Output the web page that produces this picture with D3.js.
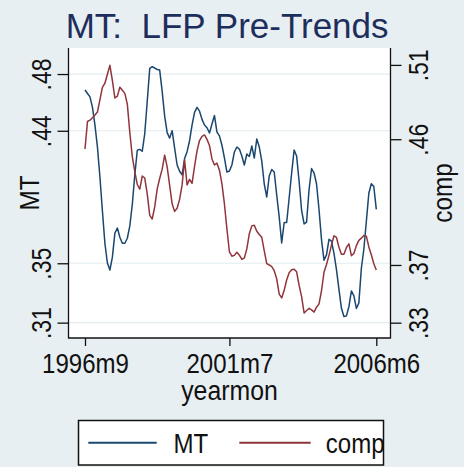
<!DOCTYPE html>
<html>
<head>
<meta charset="utf-8">
<script src="https://cdn.jsdelivr.net/npm/d3@7"></script>
<style>
  html, body { margin: 0; padding: 0; background: #e8eff2; }
  svg { display: block; }
  text { font-family: "Liberation Sans", Arial, Helvetica, sans-serif; }
</style>
</head>
<body>
<svg id="chart" width="464" height="467"></svg>
<script>
// Monthly series, 1996m9 .. 2006m6
const startYear = 1996, startMonth = 9;

const mtValues = [
  0.4716,0.4692,0.4669,0.4597,0.4475,0.4325,0.4119,0.3887,0.3666,0.3533,
  0.3485,0.3573,0.3737,0.3772,0.3709,0.3668,0.3668,0.3702,0.3787,0.3933,
  0.4135,0.4304,0.4310,0.4297,0.4418,0.4639,0.4864,0.4875,0.4866,0.4856,
  0.4852,0.4707,0.4537,0.4424,0.4387,0.4438,0.4319,0.4203,0.4160,0.4135,
  0.4247,0.4294,0.4369,0.4476,0.4563,0.4597,0.4571,0.4515,0.4476,0.4458,
  0.4422,0.4483,0.4541,0.4428,0.4402,0.4338,0.4251,0.4155,0.4162,0.4203,
  0.4292,0.4326,0.4312,0.4264,0.4203,0.4278,0.4261,0.4333,0.4251,0.4381,
  0.4326,0.4230,0.4073,0.3984,0.4128,0.4172,0.4155,0.3998,0.3848,0.3670,
  0.3810,0.3810,0.3977,0.4148,0.4306,0.4264,0.4090,0.3892,0.3800,0.3813,
  0.4035,0.4179,0.4148,0.4073,0.3897,0.3690,0.3552,0.3588,0.3695,0.3683,
  0.3598,0.3488,0.3353,0.3223,0.3167,0.3171,0.3234,0.3342,0.3308,0.3222,
  0.3260,0.3497,0.3627,0.3817,0.4010,0.4075,0.4056,0.3899
];

const compValues = [
  0.4513,0.4705,0.4714,0.4731,0.4750,0.4771,0.4858,0.4943,0.4972,0.5035,
  0.5097,0.4991,0.4869,0.4882,0.4944,0.4923,0.4901,0.4826,0.4628,0.4459,
  0.4354,0.4265,0.4232,0.4324,0.4310,0.4199,0.4049,0.4024,0.4108,0.4234,
  0.4307,0.4372,0.4470,0.4388,0.4259,0.4130,0.4077,0.4099,0.4161,0.4262,
  0.4436,0.4262,0.4301,0.4273,0.4392,0.4500,0.4572,0.4601,0.4611,0.4580,
  0.4537,0.4443,0.4401,0.4414,0.4365,0.4269,0.4129,0.3954,0.3795,0.3764,
  0.3770,0.3792,0.3771,0.3742,0.3752,0.3815,0.3921,0.3976,0.3980,0.3938,
  0.3916,0.3896,0.3801,0.3712,0.3703,0.3692,0.3663,0.3606,0.3500,0.3473,
  0.3526,0.3598,0.3649,0.3669,0.3673,0.3655,0.3560,0.3482,0.3368,0.3385,
  0.3400,0.3389,0.3374,0.3408,0.3431,0.3523,0.3652,0.3706,0.3770,0.3842,
  0.3907,0.3895,0.3827,0.3778,0.3777,0.3825,0.3850,0.3768,0.3783,0.3838,
  0.3875,0.3890,0.3908,0.3904,0.3829,0.3774,0.3712,0.3668
];

// axis ticks (values and their printed labels)
const mtTickValues = [0.3125, 0.3531, 0.4437, 0.4825];
const mtTickLabels = [".31", ".35", ".44", ".48"];
const compTickValues = [0.3300, 0.3703, 0.4581, 0.5100];
const compTickLabels = [".33", ".37", ".46", ".51"];
const xTickIndex = [0, 58, 117];

const seriesNames = ["MT", "comp"];
const seriesColors = ["#1a476f", "#90353b"];

// month labels in %tm style, e.g. 1996m9
const months = mtValues.map((_, i) => {
  const m0 = startMonth - 1 + i;
  return (startYear + Math.floor(m0 / 12)) + "m" + (m0 % 12 + 1);
});

const svg = d3.select("#chart");
const plot = { left: 68.5, right: 390.5, top: 48, bottom: 338 };
const textColor = "#111";

const x = d3.scaleLinear().domain([0, months.length - 1]).range([85, 376.3]);
const yL = d3.scaleLinear().domain([0.3020, 0.5003]).range([plot.bottom, plot.top]);
const yR = d3.scaleLinear().domain([0.3193, 0.5218]).range([plot.bottom, plot.top]);

// title
svg.append("text")
  .attr("x", 65.7).attr("y", 38.3)
  .attr("font-size", 35).attr("fill", "#1e2e5c")
  .attr("xml:space", "preserve")
  .text("MT:  LFP Pre-Trends");

// plot region
svg.append("rect")
  .attr("x", plot.left).attr("y", plot.top)
  .attr("width", plot.right - plot.left).attr("height", plot.bottom - plot.top)
  .attr("fill", "#fff");

// horizontal grid on the left axis ticks
svg.append("g").selectAll("line").data(mtTickValues).join("line")
  .attr("x1", plot.left).attr("x2", plot.right)
  .attr("y1", d => yL(d)).attr("y2", d => yL(d))
  .attr("stroke", "#e3edf0").attr("stroke-width", 1.2);

// series lines
const lineMT = d3.line().x((d, i) => x(i)).y(d => yL(d));
const lineComp = d3.line().x((d, i) => x(i)).y(d => yR(d));
svg.append("path").datum(mtValues)
  .attr("d", lineMT).attr("fill", "none")
  .attr("stroke", seriesColors[0]).attr("stroke-width", 1.5).attr("stroke-linejoin", "round");
svg.append("path").datum(compValues)
  .attr("d", lineComp).attr("fill", "none")
  .attr("stroke", seriesColors[1]).attr("stroke-width", 1.5).attr("stroke-linejoin", "round");

// axes
function styleAxis(g) {
  g.select(".domain").remove();
  g.selectAll(".tick line").attr("stroke", "#111").attr("stroke-width", 1.3);
  g.selectAll(".tick text").attr("fill", textColor).attr("font-size", 27)
    .attr("font-family", '"Liberation Sans", Arial, sans-serif');
}

const gL = svg.append("g").attr("transform", `translate(${plot.left},0)`)
  .call(d3.axisLeft(yL).tickValues(mtTickValues)
    .tickFormat((d, i) => mtTickLabels[i]).tickSize(11).tickSizeOuter(0));
styleAxis(gL);
gL.selectAll(".tick text")
  .attr("x", null).attr("dy", null).attr("text-anchor", "middle")
  .attr("transform", `translate(${50.5 - plot.left},0) rotate(-90) scale(0.85,1)`);

const gR = svg.append("g").attr("transform", `translate(${plot.right},0)`)
  .call(d3.axisRight(yR).tickValues(compTickValues)
    .tickFormat((d, i) => compTickLabels[i]).tickSize(11).tickSizeOuter(0));
styleAxis(gR);
gR.selectAll(".tick text")
  .attr("x", null).attr("dy", null).attr("text-anchor", "middle")
  .attr("transform", `translate(${428 - plot.right},0) rotate(-90) scale(0.85,1)`);

const gB = svg.append("g").attr("transform", `translate(0,${plot.bottom})`)
  .call(d3.axisBottom(x).tickValues(xTickIndex)
    .tickFormat(i => months[i]).tickSize(8).tickSizeOuter(0));
styleAxis(gB);
gB.selectAll(".tick text")
  .attr("y", null).attr("dy", null).attr("text-anchor", "middle")
  .attr("transform", `translate(0,${373 - plot.bottom}) scale(0.89,1)`);

// axis frame lines
const frame = svg.append("g").attr("stroke", "#111").attr("stroke-width", 1.3);
frame.append("line").attr("x1", plot.left).attr("x2", plot.left).attr("y1", plot.top).attr("y2", plot.bottom + 0.6);
frame.append("line").attr("x1", plot.right).attr("x2", plot.right).attr("y1", plot.top).attr("y2", plot.bottom + 0.6);
frame.append("line").attr("x1", plot.left).attr("x2", plot.right).attr("y1", plot.bottom).attr("y2", plot.bottom);

// axis titles
svg.append("text").attr("text-anchor", "middle").attr("fill", textColor).attr("font-size", 27)
  .attr("transform", "translate(39.3,193) rotate(-90) scale(0.9,1)").text("MT");
svg.append("text").attr("text-anchor", "middle").attr("fill", textColor).attr("font-size", 27)
  .attr("transform", "translate(452,193) rotate(-90) scale(0.9,1)").text("comp");
svg.append("text").attr("text-anchor", "middle").attr("fill", textColor).attr("font-size", 27)
  .attr("transform", "translate(229.5,400) scale(0.92,1)").text("yearmon");

// legend
const legend = svg.append("g");
legend.append("rect").attr("x", 78.5).attr("y", 420.5).attr("width", 305).attr("height", 44.5)
  .attr("fill", "#fff").attr("stroke", "#111").attr("stroke-width", 1.5);
const legendItems = [
  { name: seriesNames[0], color: seriesColors[0], x1: 88.3, x2: 156.7, tx: 173.5 },
  { name: seriesNames[1], color: seriesColors[1], x1: 239.3, x2: 310.7, tx: 325.7 }
];
legendItems.forEach(it => {
  legend.append("line").attr("x1", it.x1).attr("x2", it.x2).attr("y1", 442.7).attr("y2", 442.7)
    .attr("stroke", it.color).attr("stroke-width", 2);
  legend.append("text").attr("fill", textColor).attr("font-size", 28)
    .attr("transform", `translate(${it.tx},453) scale(0.86,1)`).text(it.name);
});
</script>
</body>
</html>
